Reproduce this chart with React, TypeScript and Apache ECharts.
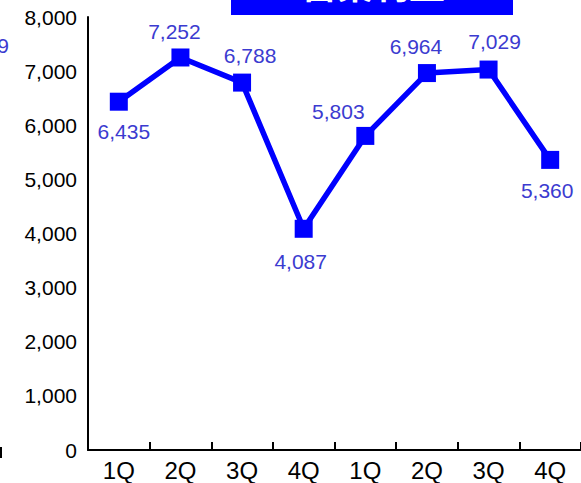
import React, { useEffect, useRef } from "react";
import * as echarts from "echarts";

const categories = ["1Q", "2Q", "3Q", "4Q", "1Q", "2Q", "3Q", "4Q"];
const values = [6435, 7252, 6788, 4087, 5803, 6964, 7029, 5360];
const yTicks = { min: 0, max: 8000, interval: 1000 };
const titleText = "営業利益";
const labelOffsets = [
  [5, 30],
  [-6, -26],
  [8, -27],
  [-3, 33],
  [-27, -24],
  [-11, -27],
  [6, -28],
  [-3, 31],
];

const fmt = (v: number) => v.toLocaleString("en-US");

export default function App() {
  const ref = useRef<HTMLDivElement>(null);
  useEffect(() => {
    if (!ref.current) return;
    const chart = echarts.init(ref.current, undefined, { renderer: "svg" });
    const font = "Liberation Sans, Arial, sans-serif";
    chart.setOption({
      animation: false,
      backgroundColor: "#ffffff",
      grid: { left: 88, top: 17, width: 496, height: 433, containLabel: false },
      xAxis: {
        type: "category",
        data: categories,
        boundaryGap: true,
        axisLine: { show: true, lineStyle: { color: "#000", width: 2 } },
        axisTick: { show: true, inside: true, length: 8, lineStyle: { color: "#000", width: 2 } },
        axisLabel: { color: "#000", fontSize: 24, fontFamily: font, margin: 8 },
        splitLine: { show: false },
      },
      yAxis: {
        type: "value",
        min: yTicks.min,
        max: yTicks.max,
        interval: yTicks.interval,
        axisLine: { show: true, lineStyle: { color: "#000", width: 2 } },
        axisTick: { show: false },
        axisLabel: {
          color: "#000",
          fontSize: 21,
          fontFamily: font,
          margin: 11,
          formatter: (v: number) => fmt(v),
        },
        splitLine: { show: false },
      },
      series: [
        {
          type: "line",
          data: values.map((v, i) => ({
            value: v,
            label: { offset: labelOffsets[i] },
          })),
          lineStyle: { color: "#0000ff", width: 5.5 },
          itemStyle: { color: "#0000ff" },
          symbol: "rect",
          symbolSize: 18,
          showAllSymbol: true,
          label: {
            show: true,
            position: "inside",
            color: "#3b3bd0",
            fontSize: 21,
            fontFamily: font,
            formatter: (p: any) => fmt(p.value),
          },
        },
      ],
      graphic: [
        {
          type: "rect",
          shape: { x: 231, y: -40, width: 282, height: 55 },
          style: { fill: "#0000ff" },
        },
        {
          type: "text",
          x: 373,
          y: 1,
          style: {
            text: titleText,
            fill: "#ffffff",
            fontSize: 36,
            fontWeight: "bold",
            fontFamily: "Noto Sans CJK JP",
            align: "center",
            verticalAlign: "bottom",
          },
        },
        {
          type: "text",
          x: 9,
          y: 45,
          style: {
            text: "9",
            fill: "#3b3bd0",
            fontSize: 21,
            fontFamily: font,
            align: "right",
            verticalAlign: "middle",
          },
        },
        {
          type: "line",
          shape: { x1: 1, y1: 447, x2: 1, y2: 458 },
          style: { stroke: "#000", lineWidth: 2 },
        },
      ],
    });
    return () => chart.dispose();
  }, []);
  return (
    <div
      ref={ref}
      style={{ position: "fixed", left: 0, top: 0, width: 581, height: 483 }}
    />
  );
}
